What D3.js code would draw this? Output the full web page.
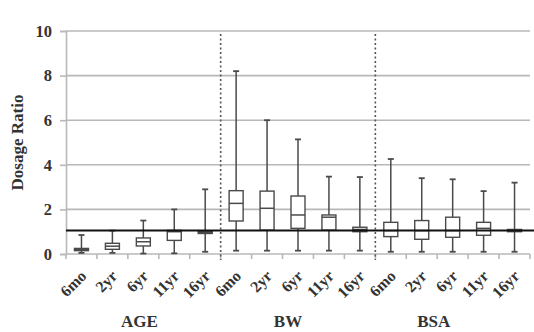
<!DOCTYPE html>
<html>
<head>
<meta charset="utf-8">
<script src="https://cdn.jsdelivr.net/npm/d3@7"></script>
<style>
  body { margin: 0; background: #fff; }
  text { font-family: "Liberation Serif", "DejaVu Serif", serif; font-weight: bold; fill: #333; }
</style>
</head>
<body>
<script>
// categories: 3 groups x 5 ages
var groups = ['AGE', 'BW', 'BSA']
var ages = ['6mo', '2yr', '6yr', '11yr', '16yr']
var yTicks = [0, 2, 4, 6, 8, 10]
var refLine = 1.05

// box stats per category, in order AGE(5), BW(5), BSA(5)
var mins    = [0.05, 0.05, 0.02, 0.03, 0.1,  0.15, 0.15, 0.15, 0.15, 0.15, 0.1,  0.1,  0.1,  0.1,  0.1]
var q1s     = [0.15, 0.21, 0.36, 0.61, 0.92, 1.48, 1.07, 1.15, 1.07, 1.0,  0.78, 0.66, 0.75, 0.84, 1.0]
var medians = [0.2,  0.35, 0.55, 1.0,  0.97, 2.27, 2.05, 1.75, 1.65, 1.1,  1.05, 1.05, 1.05, 1.15, 1.05]
var q3s     = [0.25, 0.48, 0.72, 1.06, 1.02, 2.84, 2.82, 2.6,  1.75, 1.2,  1.42, 1.5,  1.65, 1.42, 1.1]
var maxs    = [0.85, 1.05, 1.5,  2.0,  2.9,  8.2,  6.0,  5.14, 3.47, 3.45, 4.26, 3.4,  3.35, 2.82, 3.2]

var data = []
groups.forEach(function(g, gi){
  ages.forEach(function(a, ai){
    var i = gi * ages.length + ai
    data.push({key: g + '-' + a, group: g, age: a,
      min: mins[i], q1: q1s[i], median: medians[i], q3: q3s[i], max: maxs[i]})
  })
})

var width = 534, height = 332
var svg = d3.select('body').append('svg')
            .attr('width', width)
            .attr('height', height)

var x = d3.scaleBand()
          .domain(data.map(function(d){ return d.key }))
          .range([66, 530])
var y = d3.scaleLinear().domain([0, 10]).range([254, 31])

var grid = '#b8b8b8', ink = '#4a4a4a'

// gridlines
svg.selectAll('line.grid')
   .data(yTicks.filter(function(t){ return t > 0 }))
   .enter().append('line')
   .attr('class', 'grid')
   .attr('x1', 66).attr('x2', 530)
   .attr('y1', function(d){ return y(d) }).attr('y2', function(d){ return y(d) })
   .attr('stroke', grid).attr('stroke-width', 1.6)

// y axis
var yAxis = svg.append('g')
   .attr('transform', 'translate(66,0)')
   .call(d3.axisLeft(y).tickValues(yTicks).tickSize(6).tickPadding(8))
yAxis.select('.domain').attr('stroke', grid).attr('stroke-width', 1.6)
yAxis.selectAll('.tick line').attr('stroke', grid).attr('stroke-width', 1.6)
yAxis.selectAll('.tick text')
     .style('font-size', '16.5px')
     .style('font-family', '"Liberation Serif", serif')
     .style('font-weight', 'bold')
     .attr('fill', '#444')

// x axis
var xAxis = svg.append('g')
   .attr('transform', 'translate(0,' + y(0) + ')')
xAxis.append('line')
     .attr('x1', 66).attr('x2', 530)
     .attr('stroke', grid).attr('stroke-width', 1.6)
var bounds = d3.range(data.length + 1).map(function(i){ return 66 + i * x.step() })
xAxis.selectAll('line.tick')
     .data(bounds)
     .enter().append('line')
     .attr('class', 'tick')
     .attr('x1', function(d){ return d }).attr('x2', function(d){ return d })
     .attr('y1', 0).attr('y2', 5)
     .attr('stroke', grid).attr('stroke-width', 1.6)

// rotated category labels
svg.selectAll('text.cat')
   .data(data)
   .enter().append('text')
   .attr('class', 'cat')
   .attr('text-anchor', 'end')
   .attr('transform', function(d){
     return 'translate(' + (x(d.key) + x.bandwidth() / 2 + 6) + ',277) rotate(-45)'
   })
   .style('font-size', '16px')
   .text(function(d){ return d.age })

// group labels (sit a little left of the group middle, as in the original)
var groupShift = [-4, -10, -19]
svg.selectAll('text.group')
   .data(groups)
   .enter().append('text')
   .attr('class', 'group')
   .attr('text-anchor', 'middle')
   .attr('x', function(g, gi){ return 66 + (gi * 5 + 2.5) * x.step() + groupShift[gi] })
   .attr('y', 327)
   .style('font-size', '17px')
   .text(function(g){ return g })

// dashed separators
svg.selectAll('line.sep')
   .data([1, 2])
   .enter().append('line')
   .attr('class', 'sep')
   .attr('x1', function(d){ return 66 + d * 5 * x.step() })
   .attr('x2', function(d){ return 66 + d * 5 * x.step() })
   .attr('y1', y(10) + 3).attr('y2', y(0) + 6)
   .attr('stroke', '#555').attr('stroke-width', 1.6)
   .attr('stroke-dasharray', '2,2.5')

// boxes
var bw = 14, cap = 6
var boxes = svg.selectAll('g.box')
   .data(data)
   .enter().append('g')
   .attr('class', 'box')
   .attr('transform', function(d){ return 'translate(' + (x(d.key) + x.bandwidth() / 2) + ',0)' })

boxes.append('line')
     .attr('y1', function(d){ return y(d.max) }).attr('y2', function(d){ return y(d.min) })
     .attr('stroke', ink).attr('stroke-width', 1.5)
boxes.append('line')
     .attr('x1', -cap / 2).attr('x2', cap / 2)
     .attr('y1', function(d){ return y(d.max) }).attr('y2', function(d){ return y(d.max) })
     .attr('stroke', ink).attr('stroke-width', 1.8)
boxes.append('line')
     .attr('x1', -cap / 2).attr('x2', cap / 2)
     .attr('y1', function(d){ return y(d.min) }).attr('y2', function(d){ return y(d.min) })
     .attr('stroke', ink).attr('stroke-width', 1.8)
boxes.append('rect')
     .attr('x', -bw / 2).attr('width', bw)
     .attr('y', function(d){ return y(d.q3) })
     .attr('height', function(d){ return Math.max(1, y(d.q1) - y(d.q3)) })
     .attr('fill', '#fff').attr('stroke', ink).attr('stroke-width', 1.4)
boxes.append('line')
     .attr('x1', -bw / 2).attr('x2', bw / 2)
     .attr('y1', function(d){ return y(d.median) }).attr('y2', function(d){ return y(d.median) })
     .attr('stroke', ink).attr('stroke-width', 1.5)

// reference line
svg.append('line')
   .attr('x1', 66).attr('x2', 534)
   .attr('y1', y(refLine)).attr('y2', y(refLine))
   .attr('stroke', '#111').attr('stroke-width', 2)

// y label
svg.append('text')
   .attr('text-anchor', 'middle')
   .attr('transform', 'translate(23,' + y(5) + ') rotate(-90)')
   .style('font-size', '17px')
   .text('Dosage Ratio')
</script>
</body>
</html>
